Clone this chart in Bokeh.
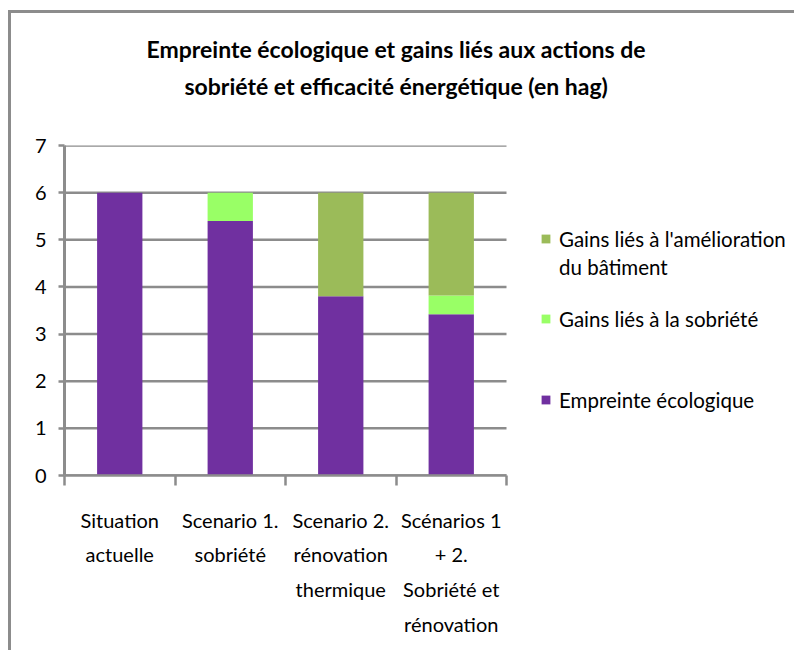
from bokeh.plotting import figure
from bokeh.models import Range1d, FixedTicker, LinearAxis, Legend, LegendItem, ColumnDataSource, Title
from bokeh.embed import file_html
from bokeh.resources import INLINE

categories = ["Situation\nactuelle", "Scenario 1.\nsobriété", "Scenario 2.\nrénovation\nthermique",
              "Scénarios 1\n+ 2.\nSobriété et\nrénovation"]
empreinte = [6.0, 5.4, 3.8, 3.42]
gains_sobriete = [0.0, 0.6, 0.0, 0.4]
gains_batiment = [0.0, 0.0, 2.2, 2.18]
y_ticks = [0, 1, 2, 3, 4, 5, 6, 7]
series_names = ["Empreinte écologique", "Gains liés à la sobriété", "Gains liés à l'amélioration", "du bâtiment"]
title_lines = ["Empreinte écologique et gains liés aux actions de",
               "sobriété et efficacité énergétique (en hag)"]

colors = ["#7030A0", "#99FF66", "#9BBB59"]
FONT = "Lato"
GRAY = "#8c8c8c"

n = len(categories)
CAT_PX = 110.5          # pixel width of one category slot
FRAME_W = 730
xs = [i + 0.5 for i in range(n)]
src = ColumnDataSource(dict(x=xs, emp=empreinte, sob=gains_sobriete, bat=gains_batiment))

p = figure(output_backend="svg", toolbar_location=None,
           frame_width=FRAME_W, frame_height=330,
           min_border_left=53, min_border_top=132, min_border_right=0, min_border_bottom=175,
           x_range=Range1d(0, FRAME_W / CAT_PX), y_range=Range1d(0, 7),
           x_axis_type=None, y_axis_type=None)
p.styles = {"margin-left": "8px", "margin-top": "10px",
            "border-left": f"3px solid {GRAY}", "border-top": f"3px solid {GRAY}"}
p.outline_line_color = None
p.background_fill_color = "white"
p.border_fill_color = "white"

# horizontal gridlines over the category area only
p.segment(x0=[0] * len(y_ticks), x1=[n] * len(y_ticks), y0=y_ticks, y1=y_ticks,
          line_color=GRAY, line_width=2.5)

rs = p.vbar_stack(["emp", "sob", "bat"], x="x", width=0.41, color=colors, source=src, line_color=None)

# axes
yax = LinearAxis(ticker=FixedTicker(ticks=y_ticks))
yax.axis_line_color = GRAY
yax.axis_line_width = 3
yax.major_tick_line_color = GRAY
yax.major_tick_line_width = 2.5
yax.major_tick_out = 6
yax.major_tick_in = 0
yax.minor_tick_line_color = None
yax.major_label_text_font = FONT
yax.major_label_text_font_size = "20px"
yax.major_label_text_color = "black"
yax.major_label_standoff = 12
p.add_layout(yax, "left")

xax = LinearAxis(ticker=FixedTicker(ticks=xs, minor_ticks=list(range(n + 1))), bounds=(0, n))
xax.major_label_overrides = {x: c for x, c in zip(xs, categories)}
xax.axis_line_color = GRAY
xax.axis_line_width = 2.5
xax.major_tick_line_color = None
xax.major_tick_out = 0
xax.major_tick_in = 0
xax.minor_tick_line_color = GRAY
xax.minor_tick_line_width = 2.5
xax.minor_tick_out = 10
xax.minor_tick_in = 0
xax.major_label_text_font = FONT
xax.major_label_text_font_size = "20px"
xax.major_label_text_color = "black"
xax.major_label_text_line_height = 1.45
xax.major_label_standoff = 22
p.add_layout(xax, "below")

# title (two centred lines)
p.title.visible = False
t2 = Title(text=title_lines[1], align="left", offset=120, standoff=92,
           text_font=FONT, text_font_style="bold", text_font_size="23px", text_color="black")
t1 = Title(text=title_lines[0], align="left", offset=82, standoff=-78,
           text_font=FONT, text_font_style="bold", text_font_size="23px", text_color="black")
p.add_layout(t2, "above")
p.add_layout(t1, "above")

# legends
dummy = p.scatter(x=[], y=[], size=1, fill_alpha=0, line_alpha=0)

def mk_legend(items, loc):
    lg = Legend(items=items, location=loc, orientation="vertical")
    lg.glyph_width = 11
    lg.glyph_height = 11
    lg.label_standoff = 8
    lg.label_text_font = FONT
    lg.label_text_font_size = "20.5px"
    lg.label_text_color = "black"
    lg.label_height = 28
    lg.spacing = 0
    lg.padding = 0
    lg.margin = 0
    lg.border_line_color = None
    lg.background_fill_alpha = 0
    return lg

p.add_layout(mk_legend([LegendItem(label=series_names[2], renderers=[rs[2]]),
                        LegendItem(label=series_names[3], renderers=[dummy])], (476, 194.5)), "center")
p.add_layout(mk_legend([LegendItem(label=series_names[1], renderers=[rs[1]])], (476, 142.5)), "center")
p.add_layout(mk_legend([LegendItem(label=series_names[0], renderers=[rs[0]])], (476, 61.5)), "center")

open("out.html", "w").write(file_html(p, INLINE))
